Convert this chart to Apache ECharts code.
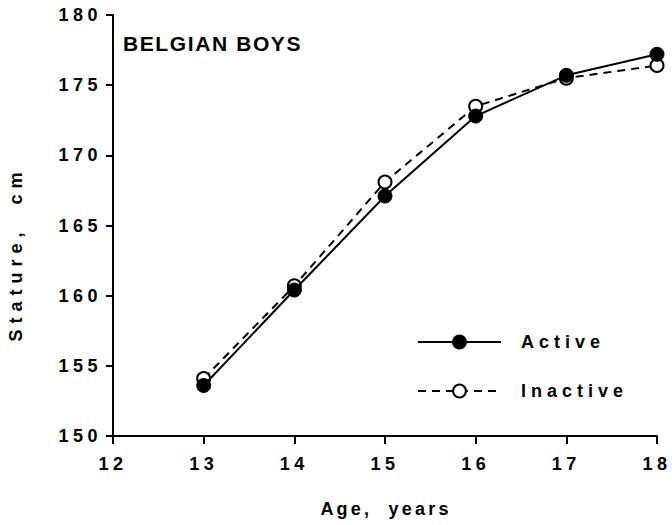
<!DOCTYPE html>
<html>
<head>
<meta charset="utf-8">
<script src="https://cdn.jsdelivr.net/npm/echarts@6/dist/echarts.min.js"></script>
<style>
  html, body { margin: 0; padding: 0; background: #fff; }
  #chart { width: 672px; height: 525px; }
</style>
</head>
<body>
<div id="chart"></div>
<script>
// Stature of Belgian boys by age, active vs inactive
const ages = [13, 14, 15, 16, 17, 18];
const activeStature = [153.6, 160.4, 167.1, 172.8, 175.7, 177.2];
const inactiveStature = [154.1, 160.7, 168.1, 173.5, 175.5, 176.4];
const xRange = [12, 18];
const yRange = [150, 180];

const FONT = '"Liberation Sans", Arial, Helvetica, sans-serif';
const INK = '#000';

const chart = echarts.init(document.getElementById('chart'), null, { renderer: 'svg' });

chart.setOption({
  animation: false,
  backgroundColor: '#fff',
  grid: { left: 113, right: 15, top: 15, bottom: 89 },
  xAxis: {
    type: 'value', min: xRange[0], max: xRange[1], interval: 1,
    axisLine: { lineStyle: { color: INK, width: 2 } },
    axisTick: { length: 8, lineStyle: { color: INK, width: 2 } },
    axisLabel: { color: INK, fontFamily: FONT, fontWeight: 'bold', fontSize: 18, margin: 19 },
    splitLine: { show: false }
  },
  yAxis: {
    type: 'value', min: yRange[0], max: yRange[1], interval: 5,
    axisLine: { lineStyle: { color: INK, width: 2 } },
    axisTick: { length: 7, lineStyle: { color: INK, width: 2 } },
    axisLabel: { color: INK, fontFamily: FONT, fontWeight: 'bold', fontSize: 18, margin: 11 },
    splitLine: { show: false }
  },
  legend: {
    orient: 'vertical', left: 412, top: 328,
    itemWidth: 83, itemHeight: 16, itemGap: 31,
    textStyle: { color: INK, fontFamily: FONT, fontWeight: 'bold', fontSize: 18, padding: [0, 0, 0, 15] },
    data: ['Active', 'Inactive']
  },
  graphic: [
    { type: 'text', left: 123, top: 33, style: { text: 'BELGIAN BOYS', fill: INK, font: 'bold 21px ' + FONT } },
    { type: 'text', x: 386, y: 509, style: { text: 'Age,  years', fill: INK, font: 'bold 18px ' + FONT, textAlign: 'center', textVerticalAlign: 'middle' } },
    { type: 'text', x: 16, y: 254, rotation: Math.PI / 2, style: { text: 'Stature,  cm', fill: INK, font: 'bold 18px ' + FONT, textAlign: 'center', textVerticalAlign: 'middle' } }
  ],
  series: [
    {
      name: 'Inactive', type: 'line', z: 2,
      data: ages.map((a, i) => [a, inactiveStature[i]]),
      symbol: 'circle', symbolSize: 13,
      itemStyle: { color: '#fff', borderColor: INK, borderWidth: 2 },
      lineStyle: { color: INK, width: 2, type: [8, 6] }
    },
    {
      name: 'Active', type: 'line', z: 3,
      data: ages.map((a, i) => [a, activeStature[i]]),
      symbol: 'circle', symbolSize: 14,
      itemStyle: { color: INK, borderColor: INK, borderWidth: 1 },
      lineStyle: { color: INK, width: 2, type: 'solid' }
    }
  ]
});

// Open up the letter spacing of the typeset labels
function spaceOut() {
  document.querySelectorAll('#chart text').forEach(t => {
    const s = t.textContent;
    let ls = 3.2;
    if (/^\d+$/.test(s)) ls = 4.5;
    else if (s === 'Active' || s === 'Inactive') ls = 5;
    else if (s === 'BELGIAN BOYS') ls = 1.6;
    else if (s.indexOf('Stature') === 0) ls = 6;
    t.style.letterSpacing = ls + 'px';
  });
}
chart.on('finished', spaceOut);
spaceOut();
</script>
</body>
</html>
